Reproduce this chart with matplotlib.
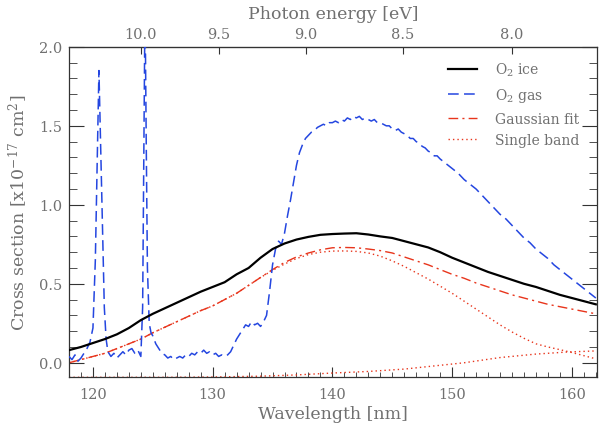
import numpy as np
import matplotlib
matplotlib.use("Agg")
import matplotlib.pyplot as plt
from matplotlib.ticker import MultipleLocator, FixedLocator

plt.rcParams['font.family'] = ['DejaVu Serif']
plt.rcParams['mathtext.fontset'] = 'dejavuserif'

TXT = '#707070'
AX = '#333333'

# O2 ice (solid black)
ice_wl = [118, 119, 120, 121, 122, 123, 124, 125, 126, 127, 128, 129, 130, 131, 132,
          133, 134, 135, 136, 137, 138, 139, 140, 141, 142, 143, 144, 145, 146, 147,
          148, 149, 150, 151, 152, 153, 154, 155, 156, 157, 158, 159, 160, 161, 162]
ice_val = [0.08, 0.10, 0.125, 0.15, 0.18, 0.22, 0.27, 0.31, 0.345, 0.38, 0.415, 0.45, 0.48, 0.51, 0.56,
           0.60, 0.665, 0.72, 0.755, 0.78, 0.797, 0.81, 0.815, 0.818, 0.82, 0.812, 0.80, 0.79, 0.77, 0.75,
           0.73, 0.70, 0.665, 0.635, 0.605, 0.575, 0.55, 0.525, 0.50, 0.48, 0.455, 0.43, 0.41, 0.39, 0.37]

# O2 gas (blue dashed, noisy)
gas_wl = [118.0, 118.25, 118.5, 118.75, 119.0, 119.25, 119.5, 119.75, 120.0, 120.2, 120.35, 120.5,
          120.65, 120.8, 120.95, 121.1, 121.25, 121.5, 121.75, 122.0, 122.25, 122.5, 122.75, 123.0,
          123.25, 123.5, 123.75, 124.0, 124.15, 124.25, 124.35, 124.45, 124.55, 124.7, 124.85, 125.0,
          125.25, 125.5, 125.75, 126.0, 126.25, 126.5, 126.75, 127.0, 127.25, 127.5, 127.75, 128.0,
          128.25, 128.5, 128.75, 129.0, 129.25, 129.5, 129.75, 130.0, 130.25, 130.5, 130.75, 131.0,
          131.25, 131.5, 131.75, 132.0, 132.25, 132.5, 132.75, 133.0, 133.25, 133.5, 133.75, 134.0,
          134.25, 134.5, 134.75, 135.0, 135.25, 135.5, 135.75, 136.0, 136.25, 136.5, 136.75, 137.0,
          137.25, 137.5, 137.75, 138.0, 138.25, 138.5, 138.75, 139.0, 139.25, 139.5, 139.75, 140.0,
          140.25, 140.5, 140.75, 141.0, 141.25, 141.5, 141.75, 142.0, 142.25, 142.5, 142.75, 143.0,
          143.25, 143.5, 143.75, 144.0, 144.25, 144.5, 144.75, 145.0, 145.25, 145.5, 145.75, 146.0,
          146.25, 146.5, 146.75, 147.0, 147.25, 147.5, 147.75, 148.0, 148.25, 148.5, 148.75, 149.0,
          149.5, 150.0, 150.5, 151.0, 151.5, 152.0, 152.5, 153.0, 153.5, 154.0, 154.5, 155.0,
          155.5, 156.0, 156.5, 157.0, 157.5, 158.0, 158.5, 159.0, 159.5, 160.0, 160.5, 161.0,
          161.5, 162.0]
gas_val = [0.04, 0.02, 0.05, 0.01, 0.03, 0.06, 0.09, 0.13, 0.22, 0.65, 1.25, 1.85,
           1.35, 0.87, 0.35, 0.15, 0.07, 0.04, 0.06, 0.03, 0.05, 0.07, 0.05, 0.08,
           0.09, 0.06, 0.08, 0.04, 0.35, 1.3, 2.3, 1.4, 0.6, 0.25, 0.19, 0.17,
           0.12, 0.09, 0.06, 0.05, 0.03, 0.04, 0.02, 0.03, 0.04, 0.03, 0.05, 0.04,
           0.06, 0.05, 0.07, 0.06, 0.08, 0.06, 0.07, 0.05, 0.06, 0.04, 0.05, 0.04,
           0.05, 0.07, 0.11, 0.15, 0.18, 0.21, 0.24, 0.23, 0.26, 0.24, 0.25, 0.23,
           0.26, 0.30, 0.45, 0.62, 0.72, 0.77, 0.75, 0.82, 0.93, 1.03, 1.14, 1.25,
           1.33, 1.38, 1.42, 1.44, 1.46, 1.47, 1.49, 1.50, 1.51, 1.50, 1.52, 1.52,
           1.53, 1.52, 1.54, 1.53, 1.55, 1.54, 1.56, 1.55, 1.56, 1.54, 1.55, 1.54,
           1.53, 1.54, 1.52, 1.52, 1.51, 1.50, 1.50, 1.48, 1.47, 1.48, 1.46, 1.45,
           1.44, 1.42, 1.42, 1.40, 1.39, 1.37, 1.36, 1.34, 1.33, 1.31, 1.31, 1.29,
           1.26, 1.23, 1.20, 1.16, 1.13, 1.10, 1.06, 1.02, 0.98, 0.94, 0.91, 0.87,
           0.83, 0.79, 0.76, 0.72, 0.69, 0.66, 0.62, 0.59, 0.56, 0.53, 0.50, 0.47,
           0.44, 0.41]

# Gaussian fit (red dash-dot)
fit_wl = ice_wl
fit_val = [0.0, 0.02, 0.04, 0.06, 0.09, 0.12, 0.15, 0.19, 0.225, 0.26, 0.295, 0.33, 0.36, 0.40, 0.44,
           0.49, 0.54, 0.59, 0.635, 0.67, 0.695, 0.715, 0.728, 0.73, 0.728, 0.72, 0.71, 0.695, 0.67, 0.645,
           0.62, 0.59, 0.56, 0.535, 0.505, 0.48, 0.455, 0.43, 0.41, 0.39, 0.37, 0.355, 0.34, 0.325, 0.31]

# single bands (red dotted)
band1_wl = ice_wl
band1_val = [0.0, 0.02, 0.04, 0.06, 0.09, 0.12, 0.15, 0.19, 0.225, 0.26, 0.295, 0.33, 0.36, 0.40, 0.44,
             0.49, 0.54, 0.585, 0.625, 0.66, 0.685, 0.70, 0.707, 0.708, 0.705, 0.695, 0.675, 0.645, 0.61, 0.57,
             0.53, 0.485, 0.44, 0.39, 0.34, 0.29, 0.24, 0.195, 0.155, 0.12, 0.10, 0.083, 0.065, 0.045, 0.025]
band2_wl = [118, 122, 126, 130, 134, 137, 140, 143, 146, 148.5, 151, 154, 157, 159.6, 162]
band2_val = [-0.092, -0.092, -0.092, -0.09, -0.085, -0.077, -0.065, -0.055, -0.04, -0.02, 0.0, 0.033, 0.055, 0.068, 0.075]

energy_ticks = [10.0, 9.5, 9.0, 8.5, 8.0]

fig = plt.figure(figsize=(6, 4.31), dpi=100)
ax = fig.add_axes([0.115, 0.123, 0.88, 0.766])

ax.plot(ice_wl, ice_val, color='black', lw=1.6, label='O$_2$ ice', zorder=4)
ax.plot(gas_wl, gas_val, color='#2446e0', lw=1.1, ls=(0, (7, 3.5)), label='O$_2$ gas', zorder=3)
ax.plot(fit_wl, fit_val, color='#e8351c', lw=1.0, ls=(0, (7, 3, 1.5, 3)), label='Gaussian fit', zorder=2)
ax.plot(band1_wl, band1_val, color='#e8351c', lw=1.0, ls=(0, (1, 2.2)), label='Single band', zorder=2)
ax.plot(band2_wl, band2_val, color='#e8351c', lw=1.0, ls=(0, (1, 2.2)), zorder=2)

ax.set_xlim(118, 162.1)
ax.set_ylim(-0.09, 2.0)

ax.xaxis.set_major_locator(MultipleLocator(10))
ax.xaxis.set_minor_locator(MultipleLocator(1))
ax.yaxis.set_major_locator(MultipleLocator(0.5))
ax.yaxis.set_minor_locator(MultipleLocator(0.1))
ax.yaxis.set_major_formatter('{x:.1f}')

ax.tick_params(axis='x', which='both', direction='in', top=False, colors=AX, labelcolor=TXT, labelsize=10.5, pad=7)
ax.tick_params(axis='x', which='major', length=7, width=0.8)
ax.tick_params(axis='x', which='minor', length=3.5, width=0.6)
ax.tick_params(axis='y', which='both', direction='in', right=True, colors=AX, labelcolor=TXT, labelsize=10.5, pad=5)
ax.tick_params(axis='y', which='major', length=11, width=0.8)
ax.tick_params(axis='y', which='minor', length=5.5, width=0.6)

for s in ax.spines.values():
    s.set_color(AX)
    s.set_linewidth(0.9)

top = ax.secondary_xaxis('top', functions=(lambda w: 1239.84 / np.asarray(w, dtype=float),
                                            lambda e: 1239.84 / np.asarray(e, dtype=float)))
top.xaxis.set_major_locator(FixedLocator(energy_ticks))
top.xaxis.set_minor_locator(FixedLocator([]))
top.xaxis.set_major_formatter('{x:.1f}')
top.tick_params(direction='in', length=5, width=0.8, colors=AX, labelcolor=TXT, labelsize=10.5, pad=4)
top.spines['top'].set_color(AX)
top.set_xlabel('Photon energy [eV]', color=TXT, fontsize=12.5, labelpad=7)

ax.set_xlabel('Wavelength [nm]', color=TXT, fontsize=12.5, labelpad=3)
ax.set_ylabel('Cross section [x10$^{-17}$ cm$^2$]', color=TXT, fontsize=12.5, labelpad=6)

leg = ax.legend(loc='upper right', bbox_to_anchor=(0.99, 0.995), frameon=False, fontsize=10,
                handlelength=2.1, handletextpad=1.3, labelspacing=0.55)
for t in leg.get_texts():
    t.set_color(TXT)

fig.savefig('out.png', dpi=100)
